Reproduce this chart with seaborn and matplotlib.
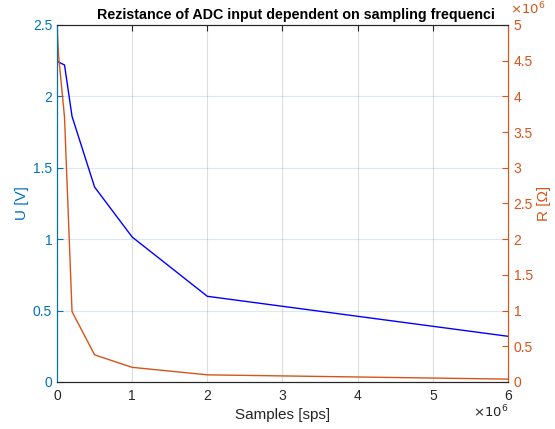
import numpy as np
import pandas as pd
import matplotlib
matplotlib.use("Agg")
import matplotlib.pyplot as plt
import seaborn as sns

# measured values (samples per second)
samples = [1e3, 2e4, 1e5, 2e5, 5e5, 1e6, 2e6, 6e6]
voltage = [2.25, 2.24, 2.22, 1.86, 1.365, 1.015, 0.60, 0.32]
resistance = [5.0e6, 4.58e6, 3.71e6, 0.985e6, 0.38e6, 0.205e6, 0.10e6, 0.04e6]

x_ticks = [0, 1e6, 2e6, 3e6, 4e6, 5e6, 6e6]
u_ticks = [0, 0.5, 1, 1.5, 2, 2.5]
r_ticks = [0, 0.5e6, 1e6, 1.5e6, 2e6, 2.5e6, 3e6, 3.5e6, 4e6, 4.5e6, 5e6]

df = pd.DataFrame({"Samples": samples, "U": voltage, "R": resistance})

sns.set_style("white")
plt.rcParams['font.family'] = ['Liberation Sans', 'DejaVu Sans']

blue_ax = "#0072BD"
orange_ax = "#D95319"
dark = "#262626"

def fmt(v, scale=1.0):
    v = v / scale
    return f"{v:g}"

fig = plt.figure(figsize=(5.55, 4.29), dpi=100)
ax = fig.add_axes([0.1027, 0.1096, 0.8126, 0.8322])
ax2 = ax.twinx()

sns.lineplot(data=df, x="Samples", y="U", ax=ax, color="#0000FF", linewidth=1.0)
sns.lineplot(data=df, x="Samples", y="R", ax=ax2, color=orange_ax, linewidth=1.0)

ax.set_xlim(0, 6e6)
ax.set_ylim(0, 2.5)
ax2.set_ylim(0, 5e6)

ax.set_xticks(x_ticks)
ax.set_xticklabels([fmt(v, 1e6) for v in x_ticks])
ax.set_yticks(u_ticks)
ax.set_yticklabels([fmt(v) for v in u_ticks])
ax2.set_yticks(r_ticks)
ax2.set_yticklabels([fmt(v, 1e6) for v in r_ticks])

# grid: vertical grey, horizontal follows left axis colour
for xv in x_ticks[1:-1]:
    ax.axvline(xv, color=dark, alpha=0.15, linewidth=0.8, zorder=0)
for yv in u_ticks[1:-1]:
    ax.axhline(yv, color=blue_ax, alpha=0.15, linewidth=0.8, zorder=0)

ax.tick_params(axis="x", direction="in", top=True, colors=dark, labelsize=10, length=4, pad=5)
ax.tick_params(axis="y", direction="in", colors=blue_ax, labelsize=10, length=4, pad=3.5)
ax2.tick_params(axis="y", direction="in", colors=orange_ax, labelsize=10, length=4, pad=4)

for a in (ax, ax2):
    a.spines["top"].set_color(dark)
    a.spines["bottom"].set_color(dark)
    a.spines["left"].set_color(blue_ax)
    a.spines["right"].set_color(orange_ax)
    for s in a.spines.values():
        s.set_linewidth(0.8)

ax.set_xlabel("Samples [sps]", fontsize=11, color=dark, labelpad=4)
ax.set_ylabel("U [V]", fontsize=11, color=blue_ax, labelpad=3)
ax2.set_ylabel("R [Ω]", fontsize=11, color=orange_ax, labelpad=3)
ax.set_title("Rezistance of ADC input dependent on sampling frequenci",
             fontsize=10.3, fontweight="bold", color="black", pad=4, x=0.529)

ax2.text(1.004, 1.022, r"$\times10^{6}$", transform=ax2.transAxes, color=orange_ax,
         fontsize=9.5, ha="left", va="bottom")
ax.text(1.0, -0.062, r"$\times10^{6}$", transform=ax.transAxes, color=dark,
        fontsize=9.5, ha="right", va="top")

fig.savefig("out.png", dpi=100)
